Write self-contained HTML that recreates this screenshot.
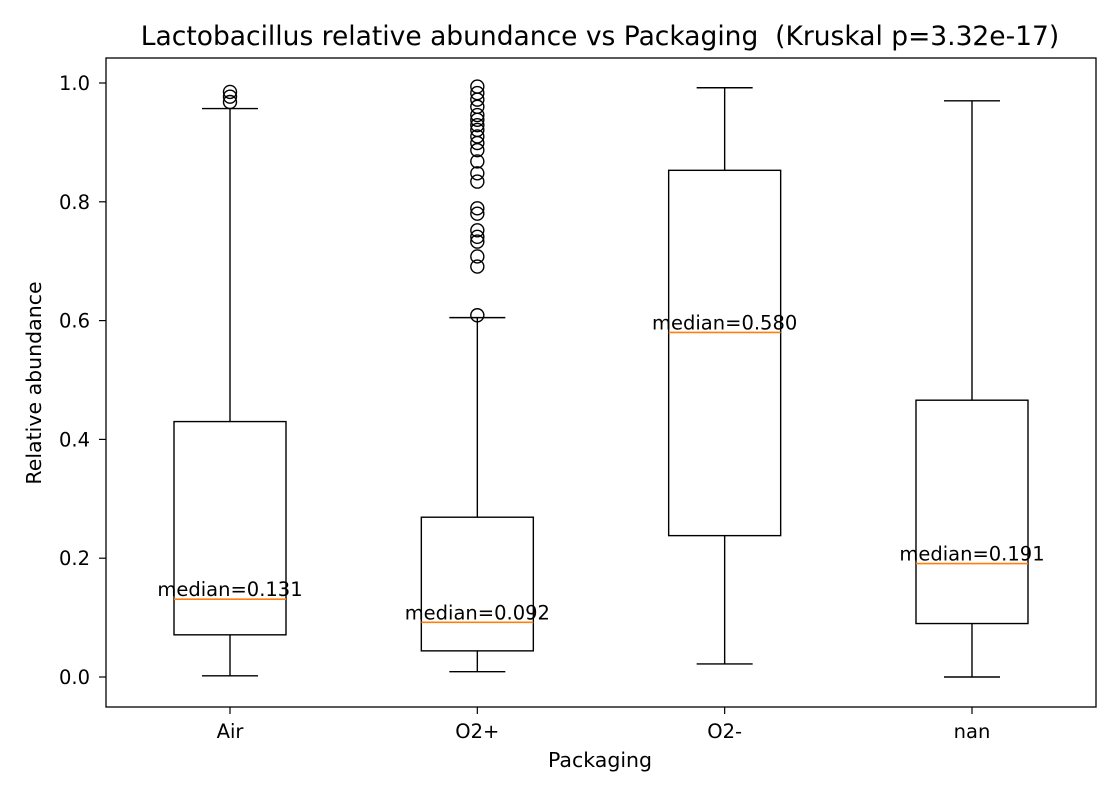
<!DOCTYPE html>
<html><head><meta charset="utf-8"><style>body{margin:0;background:#fff}svg{display:block;font-family:"DejaVu Sans","Liberation Sans",sans-serif}</style></head>
<body>
<svg id="chart" width="1120" height="800">
<rect width="1120" height="800" fill="#fff"/>
<text x="600" y="45" font-size="26.5" text-anchor="middle">Lactobacillus relative abundance vs Packaging&#160; (Kruskal p=3.32e-17)</text>
<text x="600" y="767" font-size="20.5" text-anchor="middle">Packaging</text>
<text x="41" y="383" font-size="20.5" text-anchor="middle" transform="rotate(-90 41 383)">Relative abundance</text>
<g id="marks"></g>
<rect x="106" y="58" width="990" height="649" fill="none" stroke="#000" stroke-width="1.3"/>
</svg>
<script>
const categories=["Air","O2+","O2-","nan"];
const whiskLow=[0.002,0.009,0.022,0.0];
const q1=[0.071,0.044,0.238,0.090];
const medians=[0.131,0.092,0.580,0.191];
const q3=[0.430,0.269,0.853,0.466];
const whiskHigh=[0.957,0.605,0.992,0.970];
const outliersAir=[0.985,0.977,0.968];
const outliersO2p=[0.994,0.983,0.972,0.960,0.946,0.938,0.929,0.921,0.910,0.899,0.887,0.868,0.848,0.834,0.789,0.780,0.752,0.741,0.733,0.708,0.691,0.609];
const outliersO2m=[];
const outliersNan=[];
const outliers=[outliersAir,outliersO2p,outliersO2m,outliersNan];
const yTicks=[0,0.2,0.4,0.6,0.8,1.0];
const yTickLabels=["0.0","0.2","0.4","0.6","0.8","1.0"];

const NS="http://www.w3.org/2000/svg";
const g=document.getElementById('marks');
const y=v=>677-v*594;
const x=i=>230+i*247.33;
const bw=112, cw=56;
function mk(t,a,p){const e=document.createElementNS(NS,t);for(const k in a)e.setAttribute(k,a[k]);(p||g).appendChild(e);return e;}
yTicks.forEach((v,i)=>{
  const t=mk('line',{x1:99,x2:106,y1:y(v),y2:y(v),stroke:'#000','stroke-width':1.2});
  
  
  const l=mk('text',{x:90,y:y(v)+7,'font-size':19.5,'text-anchor':'end'});l.textContent=yTickLabels[i];
  
  
});
categories.forEach((c,i)=>{
  const cx=x(i);
  const t=mk('line',{x1:cx,x2:cx,y1:707,y2:714,stroke:'#000','stroke-width':1.2});
  
  
  const l=mk('text',{x:cx,y:738,'font-size':19.5,'text-anchor':'middle'});l.textContent=c;
  
  
  const L={stroke:'#000','stroke-width':1.4,fill:'none'};
  const w1=mk('line',Object.assign({x1:cx,x2:cx,y1:y(q1[i]),y2:y(whiskLow[i])},L));
  
  
  const w2=mk('line',Object.assign({x1:cx,x2:cx,y1:y(q3[i]),y2:y(whiskHigh[i])},L));
  
  
  const c1=mk('line',Object.assign({x1:cx-cw/2,x2:cx+cw/2,y1:y(whiskLow[i]),y2:y(whiskLow[i])},L));
  
  
  const c2=mk('line',Object.assign({x1:cx-cw/2,x2:cx+cw/2,y1:y(whiskHigh[i]),y2:y(whiskHigh[i])},L));
  
  
  const b=mk('rect',Object.assign({x:cx-bw/2,y:y(q3[i]),width:bw,height:y(q1[i])-y(q3[i])},L));
  
  
  const m=mk('line',{x1:cx-bw/2,x2:cx+bw/2,y1:y(medians[i]),y2:y(medians[i]),stroke:'#ff7f0e','stroke-width':1.6});
  
  
  const ml=mk('text',{x:cx,y:y(medians[i])-3,'font-size':19.5,'text-anchor':'middle'});ml.textContent='median='+medians[i].toFixed(3);
  
  
  outliers[i].forEach(v=>{
    const o=mk('circle',{cx:cx,cy:y(v),r:6.5,fill:'none',stroke:'#000','stroke-width':1.4});
    
    
  });
});
</script>
</body></html>
